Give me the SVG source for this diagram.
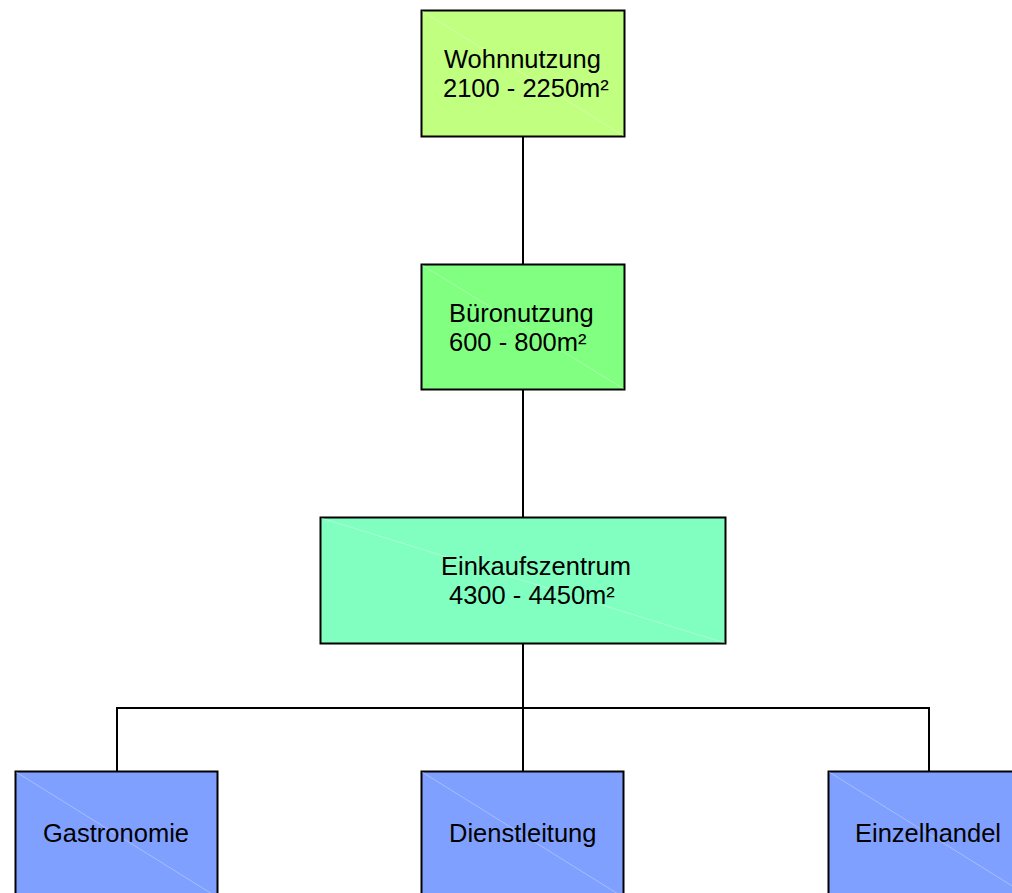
<svg xmlns="http://www.w3.org/2000/svg" width="1012" height="893" viewBox="0 0 1012 893">
<style>
.box{stroke:#000;stroke-width:2}
.diag{stroke:#fff;stroke-opacity:0.3;stroke-width:1}
.lbl{font-family:"Liberation Sans",Arial,sans-serif;font-size:25.5px;fill:#000}
.conn{fill:none;stroke:#000;stroke-width:2}
</style>
<rect width="1012" height="893" fill="#fff"/>
<g id="connectors">
<line class="conn" x1="523" y1="137" x2="523" y2="264"/>
<line class="conn" x1="523" y1="390" x2="523" y2="517"/>
<line class="conn" x1="523" y1="644" x2="523" y2="771"/>
<polyline class="conn" points="117,771 117,708 929,708 929,771"/>
</g>
<g id="wohnnutzung">
<rect class="box" x="421.5" y="10.5" width="203" height="126" fill="#c0ff80"/>
<line class="diag" x1="422" y1="11" x2="624" y2="136"/>
<text class="lbl" x="444" y="68">Wohnnutzung</text>
<text class="lbl" x="443" y="97">2100 - 2250m²</text>
</g>
<g id="bueronutzung">
<rect class="box" x="421.5" y="264.5" width="203" height="125" fill="#80ff80"/>
<line class="diag" x1="422" y1="265" x2="624" y2="389"/>
<text class="lbl" x="449" y="322">Büronutzung</text>
<text class="lbl" x="449" y="351">600 - 800m²</text>
</g>
<g id="einkaufszentrum">
<rect class="box" x="320.5" y="517.5" width="405" height="126" fill="#80ffc0"/>
<line class="diag" x1="321" y1="518" x2="725" y2="643"/>
<text class="lbl" x="441" y="575">Einkaufszentrum</text>
<text class="lbl" x="449" y="604">4300 - 4450m²</text>
</g>
<g id="gastronomie">
<rect class="box" x="15.5" y="771.5" width="202" height="140" fill="#80a0ff"/>
<line class="diag" x1="16" y1="772" x2="217" y2="897"/>
<text class="lbl" x="43" y="842">Gastronomie</text>
</g>
<g id="dienstleitung">
<rect class="box" x="421.5" y="771.5" width="202" height="140" fill="#80a0ff"/>
<line class="diag" x1="422" y1="772" x2="623" y2="897"/>
<text class="lbl" x="449" y="842">Dienstleitung</text>
</g>
<g id="einzelhandel">
<rect class="box" x="828.5" y="771.5" width="202" height="140" fill="#80a0ff"/>
<line class="diag" x1="829" y1="772" x2="1030" y2="897"/>
<text class="lbl" x="855" y="842">Einzelhandel</text>
</g>
</svg>
